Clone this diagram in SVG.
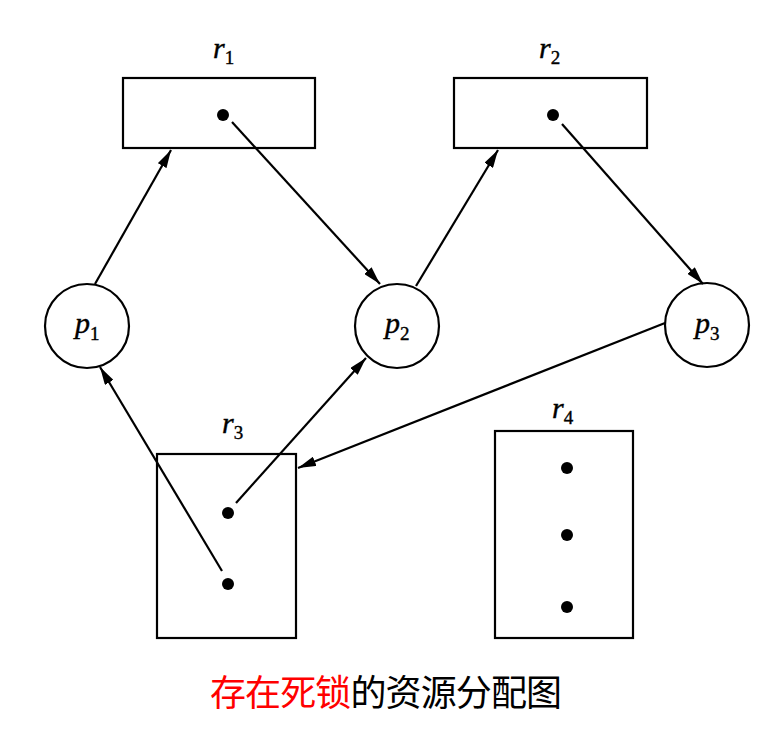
<svg xmlns="http://www.w3.org/2000/svg" width="776" height="736" viewBox="0 0 776 736">
<style>
.box{fill:#fff;stroke:#000;stroke-width:2.2}
.dot{fill:#000}
.lab{font-family:"Liberation Serif",serif;font-style:italic;font-size:30px;fill:#000;stroke:#000;stroke-width:0.4}
.sub{font-style:normal;font-size:19px}
.edge{stroke:#000;stroke-width:2.2;fill:none;marker-end:url(#ah)}
.cap{font-family:"Noto Sans CJK SC",sans-serif;font-size:36px}
</style>
<defs>
<marker id="ah" markerUnits="userSpaceOnUse" markerWidth="18" markerHeight="10" refX="18" refY="5" orient="auto" viewBox="0 0 18 10">
<path d="M0,0 L18,5 L0,10 z" fill="#000"/>
</marker>
</defs>
<rect width="776" height="736" fill="#fff"/>
<g id="r1">
<rect class="box" x="123" y="78" width="192" height="70"/>
<circle class="dot" cx="223" cy="115" r="6"/>
<text class="lab" x="213" y="58">r<tspan class="sub" dy="6">1</tspan></text>
</g>
<g id="r2">
<rect class="box" x="454" y="78" width="193" height="70"/>
<circle class="dot" cx="553" cy="115" r="6"/>
<text class="lab" x="539" y="58">r<tspan class="sub" dy="6">2</tspan></text>
</g>
<g id="p1">
<circle class="box" cx="87" cy="326" r="42"/>
<text class="lab" x="75" y="333">p<tspan class="sub" dy="7">1</tspan></text>
</g>
<g id="p2">
<circle class="box" cx="397" cy="326" r="42"/>
<text class="lab" x="385" y="333">p<tspan class="sub" dy="7">2</tspan></text>
</g>
<g id="p3">
<circle class="box" cx="707" cy="325" r="42"/>
<text class="lab" x="695" y="333">p<tspan class="sub" dy="7">3</tspan></text>
</g>
<g id="r3">
<rect class="box" x="157" y="454" width="139" height="184"/>
<circle class="dot" cx="228" cy="513" r="6"/>
<circle class="dot" cx="228" cy="584" r="6"/>
<text class="lab" x="222" y="433">r<tspan class="sub" dy="6">3</tspan></text>
</g>
<g id="r4">
<rect class="box" x="495" y="431" width="138" height="207"/>
<circle class="dot" cx="567" cy="468" r="6"/>
<circle class="dot" cx="567" cy="535" r="6"/>
<circle class="dot" cx="567" cy="607" r="6"/>
<text class="lab" x="552" y="418">r<tspan class="sub" dy="6">4</tspan></text>
</g>
<g id="edges">
<line class="edge" x1="95" y1="284" x2="171" y2="150"/>
<line class="edge" x1="232" y1="122" x2="380" y2="284"/>
<line class="edge" x1="416" y1="286" x2="498" y2="150"/>
<line class="edge" x1="562" y1="124" x2="703" y2="284"/>
<line class="edge" x1="665" y1="323" x2="298" y2="468"/>
<line class="edge" x1="236" y1="503" x2="366" y2="358"/>
<line class="edge" x1="222" y1="571" x2="100" y2="367"/>
</g>
<text class="cap" x="210" y="706" textLength="352" lengthAdjust="spacing"><tspan fill="#f00">存在死锁</tspan><tspan fill="#000">的资源分配图</tspan></text>
</svg>
